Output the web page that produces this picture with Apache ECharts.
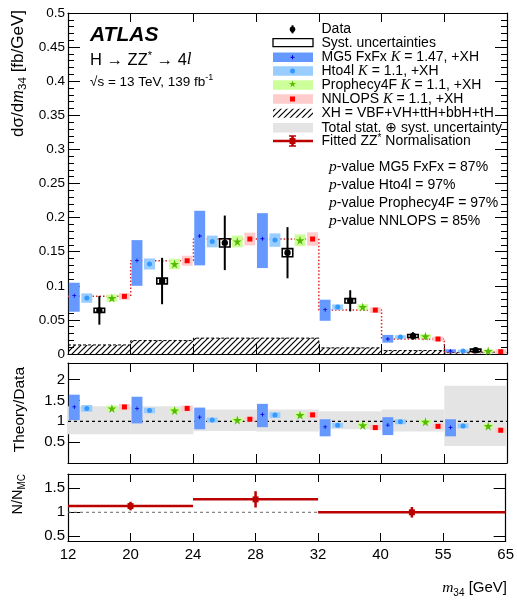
<!DOCTYPE html>
<html><head><meta charset="utf-8">
<script src="https://cdn.jsdelivr.net/npm/echarts@6/dist/echarts.min.js"></script>
<style>html,body{margin:0;padding:0;background:#fff}#c{width:517px;height:600px}</style>
</head><body><div id="c"></div>
<script>
// ---------------- data ----------------
const binEdges = [12, 20, 24, 28, 32, 40, 55, 65];
const binLabels = ['12', '20', '24', '28', '32', '40', '55', '65'];

// main panel  dsigma/dm34 [fb/GeV]
const dataVal  = [0.064, 0.107, 0.163, 0.1485, 0.078, 0.0265, 0.0054];
const dataErr  = [0.021, 0.034, 0.040, 0.0375, 0.0155, 0.0055, 0.003];
const dataSyst = [0.003, 0.0042, 0.006, 0.006, 0.0032, 0.0022, 0.0017];
const mg5Val = [0.0855, 0.137, 0.173, 0.169, 0.065, 0.022, 0.0044];
const mg5Lo  = [0.062, 0.100, 0.130, 0.126, 0.0487, 0.0167, 0.0025];
const mg5Hi  = [0.1045, 0.167, 0.210, 0.2065, 0.0796, 0.028, 0.0069];
const hto4lVal = [0.082, 0.132, 0.165, 0.167, 0.0688, 0.025, 0.0044];
const hto4lUnc = [0.0069, 0.0081, 0.0086, 0.0098, 0.0039, 0.0025, 0.002];
const prophVal = [0.082, 0.132, 0.165, 0.1667, 0.069, 0.026, 0.0044];
const prophUnc = [0.0052, 0.0076, 0.0086, 0.0086, 0.0042, 0.0032, 0.0025];
const nnlopsVal = [0.0845, 0.1367, 0.1686, 0.1686, 0.0644, 0.022, 0.0034];
const nnlopsUnc = [0.005, 0.0074, 0.0093, 0.0098, 0.0042, 0.0034, 0.0034];
const xhVal = [0.0133, 0.0197, 0.0233, 0.0233, 0.009, 0.005, 0.002];

// ratio panel Theory/Data
const bandLo = [0.69, 0.69, 0.77, 0.755, 0.81, 0.755, 0.41];
const bandHi = [1.364, 1.364, 1.286, 1.286, 1.245, 1.286, 1.857];
const mg5Ratio   = [1.345, 1.31, 1.10, 1.167, 0.865, 0.91, 0.85];
const mg5RatioLo = [1.03, 0.95, 0.81, 0.86, 0.64, 0.67, 0.64];
const mg5RatioHi = [1.64, 1.59, 1.33, 1.42, 1.05, 1.10, 1.05];
const hto4lRatio    = [1.31, 1.26, 1.03, 1.15, 0.905, 0.99, 0.89];
const hto4lRatioUnc = [0.08, 0.067, 0.06, 0.07, 0.06, 0.06, 0.06];
const prophRatio    = [1.31, 1.26, 1.03, 1.15, 0.905, 0.99, 0.885];
const prophRatioUnc = [0.07, 0.065, 0.06, 0.065, 0.06, 0.055, 0.055];
const nnlopsRatio    = [1.345, 1.31, 1.05, 1.155, 0.85, 0.88, 0.786];
const nnlopsRatioUnc = [0.07, 0.07, 0.06, 0.07, 0.06, 0.06, 0.06];

// fitted ZZ* normalisation N/N_MC
const fitRangeLo = [12, 24, 32];
const fitRangeHi = [24, 32, 65];
const fitPointM34 = [20, 28, 47.5];
const fitNorm = [1.13, 1.27, 1.0];
const fitErr  = [0.09, 0.17, 0.11];

const pValues = [['MG5 FxFx', '87%'], ['Hto4l', '97%'], ['Prophecy4F', '97%'], ['NNLOPS', '85%']];

// ---------------- style ----------------
const FONT = '"Liberation Sans", Arimo, "DejaVu Sans", sans-serif';
const SERIF = '"Liberation Serif", "DejaVu Serif", serif';
const C = {
  mg5Box: '#6699ff', mg5Mk: '#0000dd',
  htoBox: '#99ccff', htoMk: '#3399ff',
  proBox: '#ccff99', proMk: '#55bb00',
  nnlBox: '#ffcccc', nnlMk: '#ff0000',
  band: '#e4e4e4', fit: '#bb0000'
};
const OFF = { mg5: 0.1, hto: 0.3, data: 0.5, pro: 0.7, nnl: 0.9 };
const HW = 0.087;
const STAR = 'path://M50,0 L61,35 L98,35 L68,57 L79,91 L50,70 L21,91 L32,57 L2,35 L39,35 Z';
const PLUS = 'path://M4,0H6V4H10V6H6V10H4V6H0V4H4Z';

function m34ToAxis(m) {
  for (let i = 0; i < binEdges.length - 1; i++) {
    if (m <= binEdges[i + 1]) return i + (m - binEdges[i]) / (binEdges[i + 1] - binEdges[i]);
  }
  return binEdges.length - 1;
}

function hatchCanvas() {
  const c = document.createElement('canvas'); c.width = 6; c.height = 6;
  const g = c.getContext('2d'); g.strokeStyle = '#000'; g.lineWidth = 1.2;
  g.beginPath();
  g.moveTo(0, 6); g.lineTo(6, 0);
  g.moveTo(-1, 1); g.lineTo(1, -1);
  g.moveTo(5, 7); g.lineTo(7, 5);
  g.stroke();
  return c;
}
const HATCH = { image: hatchCanvas(), repeat: 'repeat' };

// ---------------- helpers ----------------
function boxSeries(g, off, lo, hi, color, z) {
  return {
    type: 'custom', xAxisIndex: g * 2, yAxisIndex: g * 2, silent: true, z: z || 3,
    data: lo.map((l, i) => [i + off, l, hi[i]]),
    renderItem(p, api) {
      const x = api.value(0);
      const a = api.coord([x - HW, api.value(1)]);
      const b = api.coord([x + HW, api.value(2)]);
      return { type: 'rect', shape: { x: a[0], y: b[1], width: b[0] - a[0], height: a[1] - b[1] }, style: { fill: color } };
    }
  };
}
function markerSeries(g, off, vals, symbol, size, color) {
  return {
    type: 'scatter', xAxisIndex: g * 2, yAxisIndex: g * 2, silent: true, z: 5,
    symbol, symbolSize: size, itemStyle: { color, opacity: 1 },
    data: vals.map((v, i) => [i + off, v])
  };
}
function stepData(vals) {
  const pts = [];
  vals.forEach((v, i) => { pts.push([i, v]); pts.push([i + 1, v]); });
  return pts;
}
function xAx(g, pos, labels, tickLen) {
  return {
    type: 'value', gridIndex: g, position: pos, min: 0, max: 7, interval: 1,
    axisLine: { show: true, onZero: false, lineStyle: { color: '#000', width: 1.2 } },
    axisTick: { show: true, inside: true, length: tickLen, lineStyle: { color: '#000', width: 1 } },
    axisLabel: { show: labels, margin: 6, color: '#000', fontFamily: FONT, fontSize: 15,
      formatter: v => binLabels[Math.round(v)] },
    splitLine: { show: false }
  };
}
function yAx(g, pos, labels, o) {
  return Object.assign({
    type: 'value', gridIndex: g, position: pos,
    axisLine: { show: true, onZero: false, lineStyle: { color: '#000', width: 1.2 } },
    axisTick: { show: true, inside: true, length: 12, lineStyle: { color: '#000', width: 1 } },
    axisLabel: { show: labels, margin: 3, color: '#000', fontFamily: FONT, fontSize: 15 },
    splitLine: { show: false }
  }, o);
}
const fmtMain = v => v === 0 ? '0' : String(+v.toFixed(2));
const fmtHalf = v => (Math.abs(v * 2 - Math.round(v * 2)) < 1e-6 && v > 0.01) ? String(+v.toFixed(1)) : '';

// ---------------- axes ----------------
const xAxes = [
  xAx(0, 'bottom', false, 10), xAx(0, 'top', false, 9),
  xAx(1, 'bottom', false, 9), xAx(1, 'top', false, 9),
  xAx(2, 'bottom', true, 8), xAx(2, 'top', false, 8)
];
const mainY = {
  min: 0, max: 0.5, interval: 0.05,
  minorTick: { show: true, splitNumber: 5, length: 6, lineStyle: { color: '#000', width: 1 } },
  minorSplitLine: { show: false }
};
const yAxes = [
  yAx(0, 'left', true, Object.assign({}, mainY, { axisLabel: { show: true, margin: 3, color: '#000', fontFamily: FONT, fontSize: 13.5, formatter: fmtMain } })),
  yAx(0, 'right', false, Object.assign({}, mainY)),
  yAx(1, 'left', true, { min: 0, max: 2.4, interval: 0.5, axisLabel: { show: true, margin: 3, color: '#000', fontFamily: FONT, fontSize: 15, formatter: fmtHalf } }),
  yAx(1, 'right', false, { min: 0, max: 2.4, interval: 0.5 }),
  yAx(2, 'left', true, { min: 0.4, max: 1.8, splitNumber: 3, axisLabel: { show: true, margin: 3, color: '#000', fontFamily: FONT, fontSize: 15, formatter: fmtHalf } }),
  yAx(2, 'right', false, { min: 0.4, max: 1.8, splitNumber: 3 })
];

// ---------------- series ----------------
const series = [];
// XH hatched
series.push({
  type: 'line', xAxisIndex: 0, yAxisIndex: 0, silent: true, z: 1, symbol: 'none',
  data: stepData(xhVal),
  lineStyle: { color: '#000', width: 1, type: [3, 2] },
  areaStyle: { color: HATCH, opacity: 1, origin: 'start' }
});
// NNLOPS dotted step
series.push({
  type: 'line', xAxisIndex: 0, yAxisIndex: 0, silent: true, z: 2, symbol: 'none',
  data: stepData(nnlopsVal),
  lineStyle: { color: '#e02020', width: 1.5, type: [1.5, 2] }
});
// main boxes
series.push(boxSeries(0, OFF.mg5, mg5Lo, mg5Hi, C.mg5Box));
series.push(boxSeries(0, OFF.hto, hto4lVal.map((v, i) => v - hto4lUnc[i]), hto4lVal.map((v, i) => v + hto4lUnc[i]), C.htoBox));
series.push(boxSeries(0, OFF.pro, prophVal.map((v, i) => v - prophUnc[i]), prophVal.map((v, i) => v + prophUnc[i]), C.proBox));
series.push(boxSeries(0, OFF.nnl, nnlopsVal.map((v, i) => v - nnlopsUnc[i]), nnlopsVal.map((v, i) => v + nnlopsUnc[i]), C.nnlBox));
series.push(markerSeries(0, OFF.mg5, mg5Val, PLUS, 4, C.mg5Mk));
series.push(markerSeries(0, OFF.hto, hto4lVal, 'circle', 5, C.htoMk));
series.push(markerSeries(0, OFF.pro, prophVal, STAR, 9, C.proMk));
series.push(markerSeries(0, OFF.nnl, nnlopsVal, 'rect', 5, C.nnlMk));
// data
series.push({
  type: 'custom', xAxisIndex: 0, yAxisIndex: 0, silent: true, z: 6,
  data: dataVal.map((v, i) => [i + OFF.data, v, dataErr[i], dataSyst[i]]),
  renderItem(p, api) {
    const x = api.value(0), v = api.value(1), e = api.value(2), s = api.value(3);
    const c = api.coord([x, v]), t = api.coord([x, v + e]), b = api.coord([x, v - e]);
    const sl = api.coord([x - 0.084, v + s]), sr = api.coord([x + 0.084, v - s]);
    return { type: 'group', children: [
      { type: 'line', shape: { x1: c[0], y1: t[1], x2: c[0], y2: b[1] }, style: { stroke: '#000', lineWidth: 2 } },
      { type: 'rect', shape: { x: sl[0], y: sl[1], width: sr[0] - sl[0], height: sr[1] - sl[1] }, style: { fill: 'none', stroke: '#000', lineWidth: 1.6 } },
      { type: 'circle', shape: { cx: c[0], cy: c[1], r: 3.2 }, style: { fill: '#000' } }
    ] };
  }
});
// ratio band
series.push({
  type: 'custom', xAxisIndex: 2, yAxisIndex: 2, silent: true, z: 1,
  data: bandLo.map((l, i) => [i, l, bandHi[i]]),
  renderItem(p, api) {
    const x = api.value(0);
    const a = api.coord([x, api.value(1)]);
    const b = api.coord([x + 1, api.value(2)]);
    return { type: 'rect', shape: { x: a[0], y: b[1], width: b[0] - a[0], height: a[1] - b[1] }, style: { fill: C.band } };
  }
});
// ratio unity line
series.push({
  type: 'line', xAxisIndex: 2, yAxisIndex: 2, silent: true, z: 2, symbol: 'none',
  data: [[0, 1], [7, 1]], lineStyle: { color: '#000', width: 1.2, type: [3, 3] }
});
series.push(boxSeries(1, OFF.mg5, mg5RatioLo, mg5RatioHi, C.mg5Box));
series.push(boxSeries(1, OFF.hto, hto4lRatio.map((v, i) => v - hto4lRatioUnc[i]), hto4lRatio.map((v, i) => v + hto4lRatioUnc[i]), C.htoBox));
series.push(boxSeries(1, OFF.pro, prophRatio.map((v, i) => v - prophRatioUnc[i]), prophRatio.map((v, i) => v + prophRatioUnc[i]), C.proBox));
series.push(boxSeries(1, OFF.nnl, nnlopsRatio.map((v, i) => v - nnlopsRatioUnc[i]), nnlopsRatio.map((v, i) => v + nnlopsRatioUnc[i]), C.nnlBox));
series.push(markerSeries(1, OFF.mg5, mg5Ratio, PLUS, 4, C.mg5Mk));
series.push(markerSeries(1, OFF.hto, hto4lRatio, 'circle', 5, C.htoMk));
series.push(markerSeries(1, OFF.pro, prophRatio, STAR, 9, C.proMk));
series.push(markerSeries(1, OFF.nnl, nnlopsRatio, 'rect', 5, C.nnlMk));
// N/N_MC
series.push({
  type: 'line', xAxisIndex: 4, yAxisIndex: 4, silent: true, z: 2, symbol: 'none',
  data: [[m34ToAxis(12), 1], [m34ToAxis(32), 1]], lineStyle: { color: '#666', width: 1, type: [3, 3] }
});
series.push({
  type: 'custom', xAxisIndex: 4, yAxisIndex: 4, silent: true, z: 4,
  data: fitNorm.map((v, i) => [m34ToAxis(fitRangeLo[i]), m34ToAxis(fitRangeHi[i]), v, m34ToAxis(fitPointM34[i]), fitErr[i]]),
  renderItem(p, api) {
    const a = api.coord([api.value(0), api.value(2)]), b = api.coord([api.value(1), api.value(2)]);
    const x = api.value(3), v = api.value(2), e = api.value(4);
    const c = api.coord([x, v]), t = api.coord([x, v + e]), d = api.coord([x, v - e]);
    return { type: 'group', children: [
      { type: 'line', shape: { x1: a[0], y1: a[1], x2: b[0], y2: b[1] }, style: { stroke: C.fit, lineWidth: 2.5 } },
      { type: 'line', shape: { x1: c[0], y1: t[1], x2: c[0], y2: d[1] }, style: { stroke: C.fit, lineWidth: 2.5 } },
      { type: 'rect', shape: { x: c[0] - 3, y: c[1] - 3, width: 6, height: 6 }, style: { fill: C.fit } }
    ] };
  }
});

// ---------------- texts / legend ----------------
const graphics = [];
function mergeT(x, y, text, size, style, extra) {
  const el = { type: 'text', x, y, silent: true, z: 100,
    style: Object.assign({ text, fill: '#000', fontFamily: FONT, fontSize: size, align: 'left', verticalAlign: 'middle' }, style || {}) };
  return Object.assign(el, extra || {});
}
// ATLAS label
graphics.push(mergeT(90, 35, 'ATLAS', 21, { fontWeight: 'bold', fontStyle: 'italic' }));
graphics.push(mergeT(90, 60, '{n|H → ZZ}{sup|*}{n| → 4}{it|l}', 16, {
  rich: { n: { fontSize: 16.5, fontFamily: FONT, lineHeight: 20 }, sup: { fontSize: 11, fontFamily: FONT, verticalAlign: 'top', lineHeight: 20 }, it: { fontSize: 17, fontFamily: SERIF, fontStyle: 'italic', lineHeight: 20 } } }));
graphics.push(mergeT(90, 82, '{n|√s = 13 TeV, 139 fb}{sup|-1}', 13.5, {
  rich: { n: { fontSize: 13.5, fontFamily: FONT, lineHeight: 17 }, sup: { fontSize: 9, fontFamily: FONT, verticalAlign: 'top', lineHeight: 17 } } }));

// legend
const legRows = [29.3, 42.7, 57.3, 71, 85, 99, 113.3, 127.7, 141];
const LX0 = 273, LX1 = 313, LXm = 292.5, LT = 321.5;
const legRich = {
  n: { fontSize: 14, fontFamily: FONT, lineHeight: 16 },
  k: { fontSize: 14.5, fontFamily: SERIF, fontStyle: 'italic', lineHeight: 16 },
  sup: { fontSize: 10, fontFamily: FONT, verticalAlign: 'top', lineHeight: 16 }
};
const legTexts = [
  '{n|Data}', '{n|Syst. uncertainties}', '{n|MG5 FxFx }{k|K}{n| = 1.47, +XH}', '{n|Hto4l }{k|K}{n| = 1.1, +XH}',
  '{n|Prophecy4F }{k|K}{n| = 1.1, +XH}', '{n|NNLOPS }{k|K}{n| = 1.1, +XH}', '{n|XH = VBF+VH+ttH+bbH+tH}',
  '{n|Total stat. ⊕ syst. uncertainty}', '{n|Fitted ZZ}{sup|*}{n| Normalisation}'
];
legTexts.forEach((t, i) => graphics.push(mergeT(LT, legRows[i], t, 14, { rich: legRich })));
// symbols
const r = legRows;
graphics.push({ type: 'line', silent: true, z: 100, shape: { x1: LXm, y1: r[0] - 4, x2: LXm, y2: r[0] + 4 }, style: { stroke: '#000', lineWidth: 2 } });
graphics.push({ type: 'circle', silent: true, z: 100, shape: { cx: LXm, cy: r[0], r: 2.8 }, style: { fill: '#000' } });
graphics.push({ type: 'rect', silent: true, z: 100, shape: { x: LX0, y: r[1] - 4, width: LX1 - LX0, height: 8 }, style: { fill: 'none', stroke: '#000', lineWidth: 1.3 } });
const boxCols = [[C.mg5Box, C.mg5Mk, 'plus'], [C.htoBox, C.htoMk, 'circle'], [C.proBox, C.proMk, 'star'], [C.nnlBox, C.nnlMk, 'rect']];
boxCols.forEach((bc, k) => {
  const y = r[2 + k];
  graphics.push({ type: 'rect', silent: true, z: 100, shape: { x: LX0, y: y - 4.7, width: LX1 - LX0, height: 9.4 }, style: { fill: bc[0] } });
  if (bc[2] === 'plus') {
    graphics.push({ type: 'rect', silent: true, z: 101, shape: { x: LXm - 2, y: y - 0.5, width: 4, height: 1 }, style: { fill: bc[1] } });
    graphics.push({ type: 'rect', silent: true, z: 101, shape: { x: LXm - 0.5, y: y - 2, width: 1, height: 4 }, style: { fill: bc[1] } });
  } else if (bc[2] === 'circle') {
    graphics.push({ type: 'circle', silent: true, z: 101, shape: { cx: LXm, cy: y, r: 2.5 }, style: { fill: bc[1] } });
  } else if (bc[2] === 'star') {
    graphics.push({ type: 'text', silent: true, z: 101, x: LXm, y: y, style: { text: '★', fill: bc[1], fontSize: 9, fontFamily: '"DejaVu Sans"', align: 'center', verticalAlign: 'middle' } });
  } else {
    graphics.push({ type: 'rect', silent: true, z: 101, shape: { x: LXm - 2.5, y: y - 2.5, width: 5, height: 5 }, style: { fill: bc[1] } });
  }
});
graphics.push({ type: 'rect', silent: true, z: 100, shape: { x: LX0, y: r[6] - 4.5, width: LX1 - LX0, height: 9 }, style: { fill: HATCH } });
graphics.push({ type: 'rect', silent: true, z: 100, shape: { x: LX0, y: r[7] - 4.7, width: LX1 - LX0, height: 9.4 }, style: { fill: C.band } });
graphics.push({ type: 'line', silent: true, z: 100, shape: { x1: LX0, y1: r[8], x2: LX1, y2: r[8] }, style: { stroke: C.fit, lineWidth: 2.5 } });
graphics.push({ type: 'line', silent: true, z: 100, shape: { x1: LXm, y1: r[8] - 5, x2: LXm, y2: r[8] + 5 }, style: { stroke: C.fit, lineWidth: 2.5 } });
graphics.push({ type: 'line', silent: true, z: 100, shape: { x1: LXm - 3.5, y1: r[8] - 5, x2: LXm + 3.5, y2: r[8] - 5 }, style: { stroke: C.fit, lineWidth: 1.5 } });
graphics.push({ type: 'line', silent: true, z: 100, shape: { x1: LXm - 3.5, y1: r[8] + 5, x2: LXm + 3.5, y2: r[8] + 5 }, style: { stroke: C.fit, lineWidth: 1.5 } });
graphics.push({ type: 'rect', silent: true, z: 101, shape: { x: LXm - 3, y: r[8] - 3, width: 6, height: 6 }, style: { fill: C.fit } });

// p-values
const pRows = [166.7, 184.8, 203, 221.3];
pValues.forEach((pv, i) => graphics.push(mergeT(329, pRows[i], '{p|p}{n|-value ' + pv[0] + ' = ' + pv[1] + '}', 14, {
  rich: { p: { fontSize: 15.5, fontFamily: SERIF, fontStyle: 'italic', lineHeight: 18 }, n: { fontSize: 14, fontFamily: FONT, lineHeight: 18 } } })));

// axis titles
graphics.push(mergeT(18, 10, '{n|dσ/d}{i|m}{s|34}{n| [fb/GeV]}', 17, {
  align: 'right',
  rich: { n: { fontSize: 17, fontFamily: FONT, lineHeight: 22 }, i: { fontSize: 18, fontFamily: SERIF, fontStyle: 'italic', lineHeight: 22 }, s: { fontSize: 11.5, fontFamily: FONT, verticalAlign: 'bottom', lineHeight: 22 } }
}, { rotation: Math.PI / 2 }));
graphics.push(mergeT(20, 367, 'Theory/Data', 15.5, { align: 'right' }, { rotation: Math.PI / 2 }));
graphics.push(mergeT(18, 474, '{n|N/N}{s|MC}', 14.5, {
  align: 'right',
  rich: { n: { fontSize: 14.5, fontFamily: FONT, lineHeight: 18 }, s: { fontSize: 10, fontFamily: FONT, verticalAlign: 'bottom', lineHeight: 18 } }
}, { rotation: Math.PI / 2 }));
graphics.push(mergeT(507, 588, '{i|m}{s|34}{n| [GeV]}', 15, {
  align: 'right',
  rich: { n: { fontSize: 15, fontFamily: FONT, lineHeight: 20 }, i: { fontSize: 15.5, fontFamily: SERIF, fontStyle: 'italic', lineHeight: 20 }, s: { fontSize: 10, fontFamily: FONT, verticalAlign: 'bottom', lineHeight: 20 } }
}));

const chart = echarts.init(document.getElementById('c'), null, { renderer: 'canvas' });
chart.setOption({
  animation: false,
  backgroundColor: '#fff',
  grid: [
    { left: 68, top: 13, width: 439, height: 341 },
    { left: 68, top: 363, width: 439, height: 100 },
    { left: 68, top: 474, width: 439, height: 67 }
  ],
  xAxis: xAxes,
  yAxis: yAxes,
  series,
  graphic: graphics
});
</script>
</body></html>
